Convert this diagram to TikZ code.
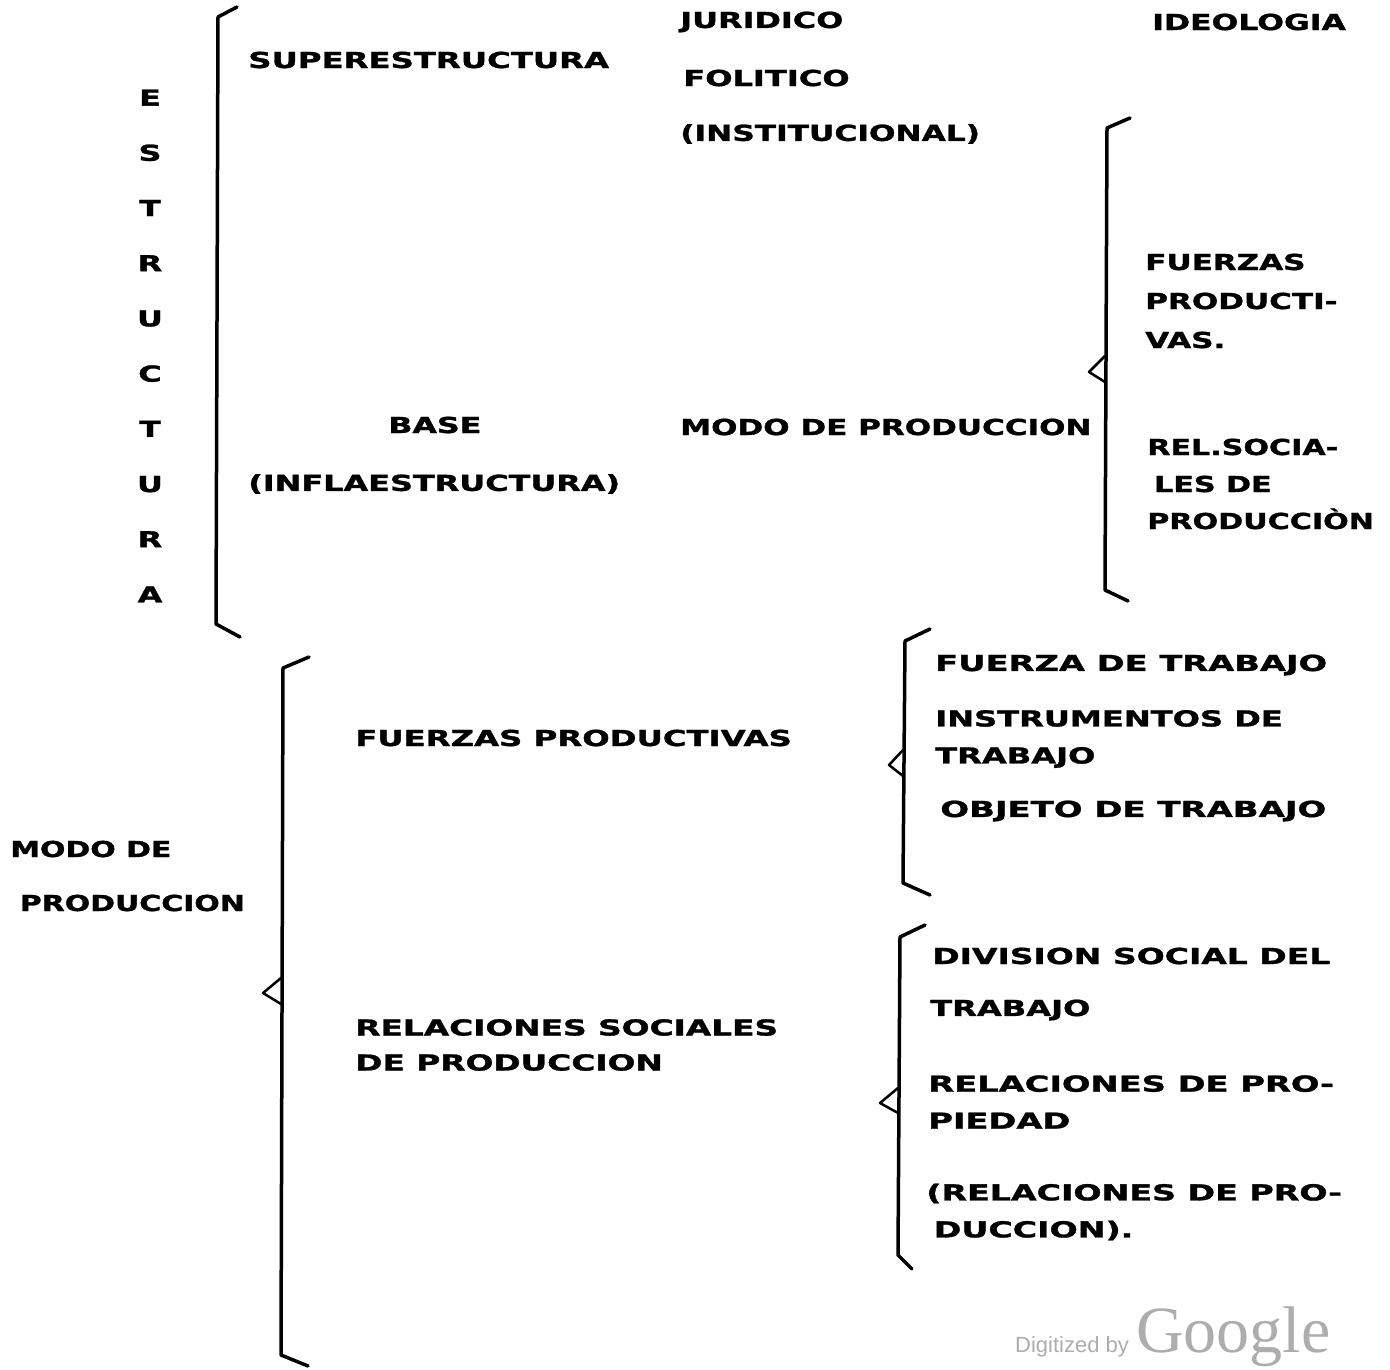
\documentclass[tikz,border=0pt]{standalone}
\usepackage{fontspec}
\setmainfont{DejaVu Sans}
\newfontfamily\heavyfont[FakeBold=1.2]{DejaVu Sans Bold}
\newfontfamily\wmserif{Liberation Serif}
\newfontfamily\wmsans{Liberation Sans}
\begin{document}
\begin{tikzpicture}[x=1pt,y=-1pt,
  txt/.style={font=\heavyfont\fontsize{22}{26}\selectfont, anchor=west, inner sep=0pt, xscale=#1, transform shape},
  txt/.default=1.45,
  ls/.style={font=\heavyfont\fontsize{22}{#1}\selectfont, align=left},
  brk/.style={line width=3.5pt, line cap=round, line join=round},
  tip/.style={line width=2.5pt, line cap=round, line join=round}]
\useasboundingbox (0,0) rectangle (1390,1370);
% upper block
\node[txt=1.45] (jur) at (680,22) {JURIDICO};
\node[txt=1.43] (ideo) at (1152,22) {IDEOLOGIA};
\node[txt=1.47] (sup) at (248,60) {SUPERESTRUCTURA};
\node[txt=1.46] (pol) at (683,78) {FOLITICO};
\node[txt=1.42] (inst) at (680,134) {(INSTITUCIONAL)};
\node[txt, ls=55.2, align=center, anchor=center] (estr) at (150,346) {E\\S\\T\\R\\U\\C\\T\\U\\R\\A};
\node[txt=1.44] (base) at (388,425) {BASE};
\node[txt=1.45] (infla) at (248,484) {(INFLAESTRUCTURA)};
\node[txt=1.41] (modo1) at (680,427) {MODO DE PRODUCCION};
\node[txt=1.41, ls=39] (fp1) at (1145,301) {FUERZAS\\PRODUCTI-\\VAS.};
\node[txt=1.37, ls=37] (rs1) at (1147,484) {REL.SOCIA-\\\hspace{5pt}LES DE\\PRODUCCIÒN};
% brackets upper
\draw[brk] (237,7) -- (218,17) -- (216,624) -- (240,637);
\draw[brk] (1130,118) -- (1107,128) -- (1105,590) -- (1128,601);
\draw[tip] (1105,356) -- (1089,372) -- (1105,382);
% lower block
\node[txt=1.36, ls=54] (mdp) at (10,876) {MODO DE\\\hspace{7pt}PRODUCCION};
\node[txt=1.47] (fp2) at (355,738) {FUERZAS PRODUCTIVAS};
\node[txt=1.49, ls=35] (rs2) at (355,1045) {RELACIONES SOCIALES\\DE PRODUCCION};
\node[txt=1.53] (ft) at (935,665) {FUERZA DE TRABAJO};
\node[txt=1.46, ls=37] (it) at (935,739) {INSTRUMENTOS DE\\TRABAJO};
\node[txt=1.54] (ot) at (940,811) {OBJETO DE TRABAJO};
\node[txt=1.5] (dst) at (932,956) {DIVISION SOCIAL DEL};
\node[txt=1.46] (trab) at (930,1010) {TRABAJO};
\node[txt=1.53, ls=37] (rp) at (928,1102) {RELACIONES DE PRO-\\PIEDAD};
\node[txt=1.51, ls=37] (rpr) at (926,1212) {(RELACIONES DE PRO-\\\hspace{5pt}DUCCION).};
% brackets lower
\draw[brk] (309,657) -- (283,668) -- (281,1355) -- (308,1366);
\draw[tip] (281,978) -- (263,993) -- (281,1004);
\draw[brk] (930,629) -- (905,641) -- (903,883) -- (930,895);
\draw[tip] (903,750) -- (889,765) -- (903,776);
\draw[brk] (925,925) -- (900,937) -- (898,1255) -- (912,1269);
\draw[tip] (898,1088) -- (880,1103) -- (898,1113);
% watermark
\node[anchor=base west, inner sep=0pt, text=black!32, font=\wmsans\fontsize{22}{22}\selectfont] (dig) at (1015,1352) {Digitized by};
\node[anchor=base west, inner sep=0pt, text=black!32, font=\wmserif\fontsize{66}{66}\selectfont] (goo) at (1136,1352) {Google};
\end{tikzpicture}
\end{document}
